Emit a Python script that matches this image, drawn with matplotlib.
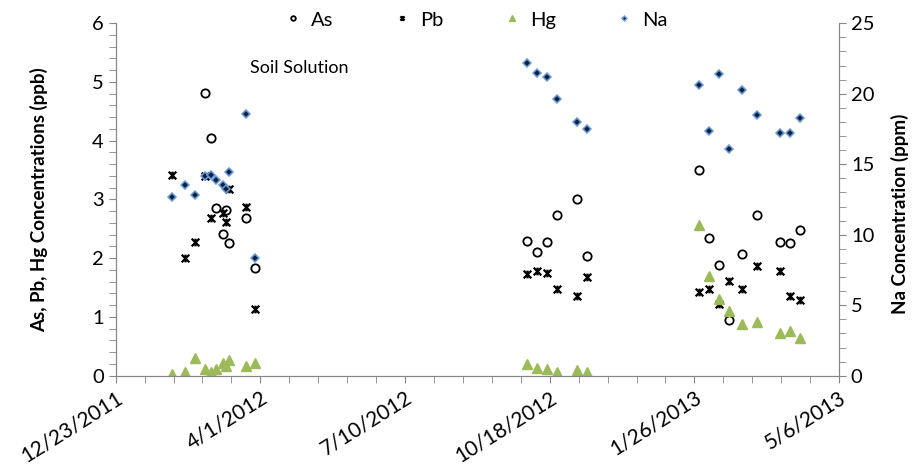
import datetime as dt
import numpy as np
import matplotlib
matplotlib.use("Agg")
import matplotlib.pyplot as plt
import matplotlib.dates as mdates
from matplotlib.path import Path
from matplotlib.ticker import FixedLocator, FuncFormatter, MultipleLocator

plt.rcParams['font.family'] = ['Lato', 'DejaVu Sans']

# sampling dates
dates = ["2012-01-31", "2012-02-09", "2012-02-16", "2012-02-23", "2012-02-27",
         "2012-03-01", "2012-03-06", "2012-03-08", "2012-03-10", "2012-03-22",
         "2012-03-28",
         "2012-10-02", "2012-10-09", "2012-10-16", "2012-10-23", "2012-11-06",
         "2012-11-13",
         "2013-01-29", "2013-02-05", "2013-02-12", "2013-02-19", "2013-02-28",
         "2013-03-10", "2013-03-26", "2013-04-02", "2013-04-09"]

nan = np.nan
as_ppb = [nan, nan, nan, 4.82, 4.05, 2.85, 2.41, 2.82, 2.26, 2.69, 1.83,
          2.29, 2.11, 2.27, 2.73, 3.00, 2.03,
          3.50, 2.34, 1.89, 0.95, 2.07, 2.74, 2.27, 2.26, 2.48]
pb_ppb = [3.42, 2.00, 2.28, 3.40, 2.69, nan, 2.77, 2.62, 3.18, 2.87, 1.14,
          1.73, 1.78, 1.75, 1.47, 1.36, 1.68,
          1.42, 1.48, 1.22, 1.62, 1.48, 1.86, 1.79, 1.35, 1.29]
hg_ppb = [0.03, 0.06, 0.31, 0.12, 0.07, 0.11, 0.21, 0.17, 0.27, 0.17, 0.22,
          0.20, 0.13, 0.11, 0.06, 0.10, 0.06,
          2.56, 1.70, 1.30, 1.10, 0.88, 0.91, 0.73, 0.76, 0.64]
na_ppm = [12.68, 13.51, 12.85, 14.17, 14.27, 13.87, 13.53, 13.25, 14.46, 18.59, 8.33,
          22.21, 21.50, 21.22, 19.62, 18.03, 17.49,
          20.61, 17.35, 21.39, 16.09, 20.28, 18.48, 17.23, 17.23, 18.27]

x_start = dt.date(2011, 12, 23)
x_end = dt.date(2013, 5, 6)

GRAY = '#868686'

# Excel style "star" marker: an X with a vertical bar
star = Path([(-1, -1), (1, 1), (-1, 1), (1, -1), (0, -1), (0, 1)],
            [Path.MOVETO, Path.LINETO, Path.MOVETO, Path.LINETO, Path.MOVETO, Path.LINETO])


def fmt_date(v, pos=None):
    d = mdates.num2date(v)
    return f"{d.month}/{d.day}/{d.year}"


def soil_solution_chart():
    x = [dt.datetime.strptime(s, "%Y-%m-%d") for s in dates]

    fig = plt.figure(figsize=(9.16, 4.65), dpi=100)
    ax = fig.add_axes([0.1263, 0.192, 0.7897, 0.758])
    ax2 = ax.twinx()

    h1, = ax.plot(x, as_ppb, ls='none', marker='o', ms=6, mfc='none', mec='black', mew=1.3, label='As')
    h2, = ax.plot(x, pb_ppb, ls='none', marker=star, ms=5.5, color='black', mew=1.6, label='Pb')
    h3, = ax.plot(x, hg_ppb, ls='none', marker='^', ms=7, color='#9BBB59', mec='#9BBB59', label='Hg')
    h4, = ax2.plot(x, na_ppm, ls='none', marker='D', ms=4.5, mfc='#10213F', mec='#6A9BD8', mew=1.1, label='Na')

    lo = mdates.date2num(x_start)
    hi = mdates.date2num(x_end)
    ax.set_xlim(lo, hi)
    ax.set_ylim(0, 6)
    ax2.set_ylim(0, 25)

    ax.xaxis.set_major_locator(FixedLocator(np.arange(lo, hi + 1, 100)))
    ax.xaxis.set_minor_locator(FixedLocator(np.arange(lo, hi + 1, 20)))
    ax.xaxis.set_major_formatter(FuncFormatter(fmt_date))
    ax.yaxis.set_major_locator(MultipleLocator(1))
    ax.yaxis.set_minor_locator(MultipleLocator(0.2))
    ax2.yaxis.set_major_locator(MultipleLocator(5))
    ax2.yaxis.set_minor_locator(MultipleLocator(1))

    for a in (ax, ax2):
        a.spines['top'].set_visible(False)
        for side in ('left', 'right', 'bottom'):
            a.spines[side].set_color(GRAY)
        a.tick_params(which='both', color=GRAY, direction='out', length=5, labelsize=14.5)

    for lbl in ax.get_xticklabels():
        lbl.set_rotation(32)
        lbl.set_ha('right')
        lbl.set_rotation_mode('anchor')
        lbl.set_fontsize(15)

    ax.set_ylabel('As, Pb, Hg Concentrations (ppb)', fontsize=13.5, fontweight='bold')
    ax.yaxis.set_label_coords(-0.093, 0.5)
    ax2.set_ylabel('Na Concentration (ppm)', fontsize=13.5, fontweight='bold')
    ax2.yaxis.set_label_coords(1.071, 0.46)

    ax.text(0.185, 0.86, 'Soil Solution', transform=ax.transAxes, fontsize=13)

    fig.legend([h1, h2, h3, h4], ['As', 'Pb', 'Hg', 'Na'], loc='center',
               bbox_to_anchor=(0.52, 0.957), ncol=4, frameon=False, fontsize=14.5,
               markerscale=0.55, handlelength=0.8, handletextpad=0.5, columnspacing=3.0)

    fig.savefig("out.png", dpi=100)


soil_solution_chart()
